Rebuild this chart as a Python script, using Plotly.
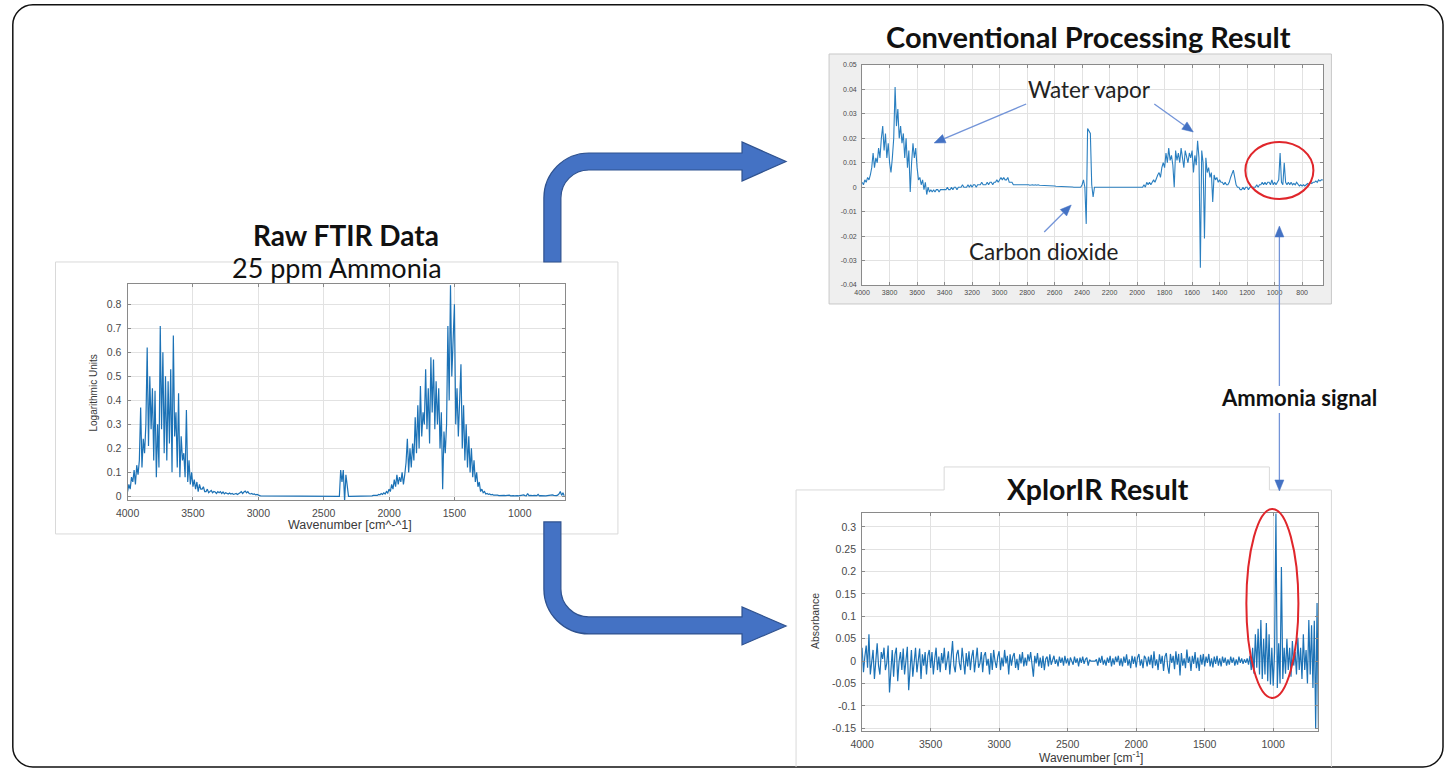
import math
import plotly.graph_objects as go

W, H = 1445, 771
# measured placement of the page inside the returned picture
SX, OX, SY, OY = 0.991, 11.5, 0.991, 4.0


def X(px):
    return ((px - OX) / SX) / W


def Y(py):
    return 1 - ((py - OY) / SY) / H


# ---------------- data ----------------
# Raw FTIR spectrum, 4000 -> 660 cm^-1, one value every 10 cm^-1
raw_start, raw_step = 4000, -10
raw_abs = [
    0.02, 0.05, 0.03, 0.08, 0.06, 0.11, 0.05, 0.13, 0.09, 0.15,      # 4000
    0.37, 0.12, 0.24, 0.18, 0.30, 0.62, 0.21, 0.50, 0.28, 0.45,      # 3900
    0.15, 0.44, 0.08, 0.30, 0.12, 0.71, 0.28, 0.60, 0.18, 0.50,      # 3800
    0.15, 0.48, 0.22, 0.53, 0.10, 0.67, 0.25, 0.35, 0.12, 0.43,      # 3700
    0.08, 0.25, 0.15, 0.18, 0.08, 0.36, 0.06, 0.15, 0.05, 0.10,      # 3600
    0.04, 0.07, 0.03, 0.06, 0.02, 0.05, 0.03, 0.03, 0.04, 0.02,      # 3500
    0.02, 0.03, 0.015, 0.02, 0.025, 0.015, 0.02, 0.018, 0.012, 0.02,  # 3400
    0.015, 0.02, 0.012, 0.018, 0.01, 0.015, 0.012, 0.01, 0.014, 0.01,  # 3300
    0.012, 0.008, 0.01, 0.012, 0.008, 0.01, 0.015, 0.02, 0.012, 0.018,  # 3200
    0.022, 0.015, 0.02, 0.012, 0.01, 0.012, 0.008, 0.01, 0.006, 0.008,  # 3100
    0.004, 0.003, 0.002, 0.002, 0.001, 0.001, 0.001, 0.0, 0.001, 0.0,  # 3000
    0.0, 0.001, 0.0, 0.0, 0.001, 0.0, 0.0, 0.0, 0.001, 0.0,          # 2900
    0.0, 0.0, 0.0, 0.001, 0.0, 0.0, 0.0, 0.0, 0.0, 0.0,              # 2800
    0.0, 0.0, 0.001, 0.0, 0.0, 0.0, 0.0, 0.0, 0.0, 0.0,              # 2700
    0.0, 0.0, 0.0, 0.0, 0.0, 0.0, 0.001, 0.0, 0.0, 0.0,              # 2600
    0.0, 0.0, 0.0, 0.0, 0.0, 0.0, 0.0, 0.0, 0.0, 0.0,                # 2500
    0.0, 0.0, 0.0, 0.11, 0.06, 0.11, -0.02, 0.09, 0.05, 0.0,         # 2400
    0.0, 0.0, 0.0, 0.0, 0.0, 0.0, 0.0, 0.0, 0.0, 0.0,                # 2300
    0.0, 0.001, 0.0, 0.002, 0.001, 0.002, 0.003, 0.002, 0.004, 0.003,  # 2200
    0.005, 0.004, 0.008, 0.006, 0.012, 0.008, 0.015, 0.01, 0.02, 0.014,  # 2100
    0.03, 0.02, 0.05, 0.03, 0.07, 0.04, 0.09, 0.05, 0.08, 0.06,      # 2000
    0.10, 0.05, 0.09, 0.14, 0.24, 0.10, 0.20, 0.12, 0.22, 0.15,      # 1900
    0.33, 0.18, 0.38, 0.20, 0.46, 0.25, 0.35, 0.30, 0.53, 0.28,      # 1800
    0.45, 0.22, 0.58, 0.35, 0.57, 0.28, 0.48, 0.30, 0.45, 0.20,      # 1700
    0.35, 0.03, 0.27, 0.18, 0.30, 0.71, 0.40, 0.88, 0.50, 0.62,      # 1600
    0.80, 0.30, 0.45, 0.25, 0.42, 0.55, 0.20, 0.38, 0.15, 0.30,      # 1500
    0.12, 0.25, 0.10, 0.20, 0.08, 0.15, 0.06, 0.10, 0.04, 0.06,      # 1400
    0.02, 0.03, 0.015, 0.02, 0.01, 0.012, 0.008, 0.01, 0.006, 0.008,  # 1300
    0.005, 0.006, 0.004, 0.005, 0.003, 0.004, 0.005, 0.003, 0.004, 0.003,  # 1200
    0.004, 0.003, 0.005, 0.002, 0.004, 0.003, 0.002, 0.004, 0.003, 0.002,  # 1100
    0.003, 0.004, 0.002, 0.006, 0.003, 0.002, 0.012, 0.003, 0.004, 0.002,  # 1000
    0.003, 0.004, 0.002, 0.003, 0.008, 0.002, 0.003, 0.002, 0.004, 0.003,  # 900
    0.002, 0.003, 0.004, 0.002, 0.003, 0.006, 0.004, 0.002, 0.003, 0.005,  # 800
    0.010, 0.020, 0.004, 0.015, 0.003,                               # 700
]

# Conventional processing result, 4000 -> 650 cm^-1, every 10 cm^-1
conv_start, conv_step = 4000, -10
conv_abs = [
    0.002, 0.001, 0.003, 0.002, 0.004, 0.003, 0.005, 0.008, 0.014, 0.008,  # 4000
    0.012, 0.01, 0.016, 0.012, 0.02, 0.025, 0.015, 0.022, 0.012, 0.018,    # 3900
    0.01, 0.006, 0.012, 0.02, 0.041, 0.025, 0.032, 0.02, 0.025, 0.018,     # 3800
    0.022, 0.012, 0.02, 0.008, 0.015, -0.002, 0.01, 0.018, 0.012, 0.016,   # 3700
    0.008, 0.003, 0.004, 0.001, 0.003, -0.001, 0.002, -0.003, 0.0, -0.002,  # 3600
    -0.001, -0.002, -0.001, -0.002, -0.001, -0.001, -0.002, -0.001, -0.001, -0.001,  # 3500
    -0.001, -0.001, 0.0, -0.001, -0.001, 0.0, -0.001, 0.0, 0.0, -0.001,    # 3400
    0.0, 0.0, 0.0, 0.001, 0.0, 0.0, 0.0, 0.001, 0.0, 0.001,                # 3300
    0.0, 0.001, 0.001, 0.0, 0.001, 0.001, 0.001, 0.002, 0.001, 0.001,      # 3200
    0.001, 0.002, 0.001, 0.002, 0.002, 0.001, 0.002, 0.002, 0.003, 0.002,  # 3100
    0.003, 0.004, 0.003, 0.004, 0.003, 0.003, 0.004, 0.002, 0.002, 0.002,  # 3000
    0.001, 0.001, 0.001, 0.0012, 0.001, 0.001, 0.0012, 0.001, 0.001, 0.001,  # 2900
    0.001, 0.001, 0.0008, 0.001, 0.001, 0.0008, 0.001, 0.0008, 0.001, 0.0008,  # 2800
    0.0008, 0.0008, 0.0006, 0.0008, 0.0006, 0.0006, 0.0006, 0.0005, 0.0005, 0.0005,  # 2700
    0.0005, 0.0004, 0.0004, 0.0004, 0.0003, 0.0003, 0.0003, 0.0002, 0.0002, 0.0002,  # 2600
    0.0002, 0.0001, 0.0001, 0.0001, 0.0, 0.0, 0.0, 0.0, 0.0, 0.0,          # 2500
    0.001, 0.003, 0.0, -0.015, 0.024, 0.023, 0.022, 0.001, -0.004, 0.0,    # 2400
    0.0, 0.0, 0.0, 0.0, 0.0, 0.0, 0.0, 0.0, 0.0, 0.0,                      # 2300
    0.0, 0.0, 0.0, 0.0, 0.0, 0.0, 0.0, 0.0, 0.0, 0.0,                      # 2200
    0.0, 0.0, 0.0, 0.0, 0.0, 0.0, 0.0, 0.0, 0.0, 0.0,                      # 2100
    0.0, 0.0, 0.0, 0.0, 0.0, 0.001, 0.0, 0.002, 0.001, 0.002,              # 2000
    0.001, 0.002, 0.003, 0.002, 0.004, 0.005, 0.006, 0.004, 0.008, 0.01,   # 1900
    0.008, 0.014, 0.01, 0.016, 0.011, 0.013, 0.009, 0.0, 0.015, 0.011,     # 1800
    0.014, 0.01, 0.016, 0.012, 0.008, 0.015, 0.013, 0.01, 0.014, 0.012,    # 1700
    0.015, 0.006, 0.013, 0.009, 0.019, 0.012, -0.033, 0.015, 0.01, -0.021,  # 1600
    0.012, 0.006, 0.008, 0.004, 0.006, -0.006, 0.005, 0.003, 0.004, 0.002,  # 1500
    0.003, 0.002, 0.002, 0.001, 0.002, 0.001, 0.001, 0.002, 0.004, 0.006,  # 1400
    0.007, 0.004, 0.001, 0.0, 0.0, -0.001, -0.001, 0.0, -0.001, 0.0,       # 1300
    0.0, -0.001, 0.0, 0.0, 0.0, 0.0, 0.0, 0.001, 0.0, 0.001,               # 1200
    0.001, 0.002, 0.001, 0.002, 0.001, 0.002, 0.002, 0.001, 0.003, 0.001,  # 1100
    0.002, 0.001, 0.002, 0.003, 0.014, 0.002, 0.001, 0.01, 0.002, 0.001,   # 1000
    0.002, 0.001, 0.002, 0.001, 0.0015, 0.001, 0.002, 0.001, 0.0005, 0.001,  # 900
    0.0005, 0.001, 0.0005, 0.001, 0.0015, 0.001, 0.002, 0.0015, 0.002, 0.002,  # 800
    0.0025, 0.002, 0.003, 0.0025, 0.003, 0.003,                            # 700
]

# XplorIR result, 4000 -> 670 cm^-1, every 10 cm^-1
xpl_start, xpl_step = 4000, -10
xpl_abs = [
    0.03, -0.025, 0.01, 0.035, -0.015, 0.06, -0.03, 0.005, 0.025, -0.04,     # 4000
    0.015, 0.04, -0.01, -0.03, 0.02, 0.005, 0.03, -0.02, -0.005, 0.035,      # 3900
    -0.07, -0.01, 0.025, -0.035, 0.015, 0.03, -0.045, 0.0, 0.02, -0.02,      # 3800
    0.028, -0.03, 0.01, 0.032, -0.065, -0.01, 0.025, -0.035, 0.005, 0.03,    # 3700
    -0.025, 0.01, 0.028, -0.04, 0.015, -0.01, 0.02, -0.03, 0.012, 0.025,     # 3600
    -0.015, 0.02, -0.03, 0.005, 0.03, -0.02, 0.01, -0.025, 0.018, -0.005,    # 3500
    0.03, -0.02, 0.008, 0.022, -0.03, 0.012, 0.045, -0.01, -0.025, 0.015,    # 3400
    0.025, -0.005, -0.02, 0.03, 0.0, -0.03, 0.018, -0.012, 0.022, -0.02,     # 3300
    0.01, 0.025, -0.025, 0.005, 0.03, -0.015, -0.005, 0.02, -0.025, 0.012,   # 3200
    0.02, -0.01, 0.005, -0.03, 0.018, -0.02, 0.025, 0.0, -0.015, 0.01,       # 3100
    0.022, -0.02, 0.008, -0.012, 0.025, -0.005, 0.012, -0.03, 0.015, -0.01,  # 3000
    0.01, 0.018, -0.015, 0.005, -0.02, 0.015, -0.005, 0.02, -0.012, 0.008,   # 2900
    -0.01, 0.015, 0.0, 0.02, -0.015, -0.035, 0.012, -0.005, 0.018, -0.012,   # 2800
    0.008, -0.015, 0.012, -0.02, 0.005, 0.01, -0.012, 0.015, -0.008, 0.004,  # 2700
    0.012, -0.006, 0.004, -0.012, 0.01, -0.004, 0.008, -0.01, 0.012, -0.005,  # 2600
    0.006, -0.01, 0.008, 0.0, -0.008, 0.01, -0.004, 0.006, -0.012, 0.008,    # 2500
    -0.004, 0.01, -0.006, 0.004, 0.008, -0.01, 0.003, 0.0, 0.0, 0.0,         # 2400
    0.0, 0.004, -0.01, 0.008, -0.004, 0.012, -0.008, 0.003, -0.01, 0.008,    # 2300
    -0.004, 0.012, -0.012, 0.006, -0.008, 0.01, -0.002, 0.012, -0.01, 0.006,  # 2200
    -0.012, 0.01, -0.004, 0.015, -0.01, 0.004, -0.016, 0.012, -0.006, 0.01,  # 2100
    -0.014, 0.008, 0.016, -0.01, 0.004, -0.016, 0.012, 0.006, -0.012, 0.01,  # 2000
    -0.008, 0.014, -0.016, 0.022, -0.01, 0.004, -0.02, 0.015, -0.006, 0.012,  # 1900
    -0.022, 0.01, 0.018, -0.012, -0.028, 0.016, -0.004, 0.012, -0.018, 0.022,  # 1800
    -0.008, 0.016, -0.032, 0.018, -0.01, 0.006, -0.016, 0.026, -0.004, 0.01,  # 1700
    -0.022, 0.012, -0.006, 0.02, -0.016, 0.008, -0.022, 0.014, -0.008, 0.016,  # 1600
    -0.012, 0.01, -0.004, 0.016, -0.012, 0.006, -0.014, 0.01, -0.006, 0.012,  # 1500
    -0.01, 0.006, -0.012, 0.01, -0.004, 0.008, -0.01, 0.004, -0.008, 0.01,   # 1400
    -0.004, 0.008, -0.01, 0.004, -0.008, 0.01, -0.004, 0.006, -0.006, 0.004,  # 1300
    -0.004, 0.006, -0.008, 0.012, -0.02, 0.03, -0.028, 0.06, -0.015, 0.072,  # 1200
    -0.03, 0.092, -0.04, 0.05, -0.03, 0.085, -0.045, 0.06, -0.052, 0.03,     # 1100
    -0.055, 0.02, 0.33, -0.06, 0.04, -0.05, 0.21, -0.04, 0.03, -0.028,       # 1000
    0.05, -0.02, 0.03, -0.035, 0.045, -0.01, 0.02, -0.03, 0.052, -0.02,      # 900
    0.03, -0.04, 0.06, -0.02, 0.025, -0.05, 0.092, -0.03, 0.08, -0.06,       # 800
    0.09, -0.15, 0.13, -0.15,                                                # 700
]

# tick labels
raw_xticks = [4000, 3500, 3000, 2500, 2000, 1500, 1000]
raw_yticks = [0, 0.1, 0.2, 0.3, 0.4, 0.5, 0.6, 0.7, 0.8]
raw_ylabels = ["0", "0.1", "0.2", "0.3", "0.4", "0.5", "0.6", "0.7", "0.8"]
conv_xticks = [4000, 3800, 3600, 3400, 3200, 3000, 2800, 2600, 2400, 2200,
               2000, 1800, 1600, 1400, 1200, 1000, 800]
conv_yticks = [-0.04, -0.03, -0.02, -0.01, 0, 0.01, 0.02, 0.03, 0.04, 0.05]
conv_ylabels = ["-0.04", "-0.03", "-0.02", "-0.01", "0", "0.01", "0.02",
                "0.03", "0.04", "0.05"]
xpl_xticks = [4000, 3500, 3000, 2500, 2000, 1500, 1000]
xpl_yticks = [-0.15, -0.1, -0.05, 0, 0.05, 0.1, 0.15, 0.2, 0.25, 0.3]
xpl_ylabels = ["-0.15", "-0.1", "-0.05", "0", "0.05", "0.1", "0.15", "0.2",
               "0.25", "0.3"]

raw_wn = [raw_start + raw_step * i for i in range(len(raw_abs))]
conv_wn = [conv_start + conv_step * i for i in range(len(conv_abs))]
xpl_wn = [xpl_start + xpl_step * i for i in range(len(xpl_abs))]

LINE = "#1c72b6"

fig = go.Figure()
fig.add_trace(go.Scatter(x=raw_wn, y=raw_abs, mode="lines", xaxis="x", yaxis="y",
                         line=dict(color=LINE, width=1.2), showlegend=False, hoverinfo="skip"))
fig.add_trace(go.Scatter(x=conv_wn, y=conv_abs, mode="lines", xaxis="x2", yaxis="y2",
                         line=dict(color="#2a7fc0", width=1.1), showlegend=False, hoverinfo="skip"))
fig.add_trace(go.Scatter(x=xpl_wn, y=xpl_abs, mode="lines", xaxis="x3", yaxis="y3",
                         line=dict(color=LINE, width=1.2), showlegend=False, hoverinfo="skip"))


def ax_style(size):
    return dict(showgrid=True, gridcolor="#e2e2e2", gridwidth=1, showline=True,
                linecolor="#8a8a8a", linewidth=1, mirror="ticks", ticks="inside",
                ticklen=3, tickcolor="#8a8a8a", zeroline=False,
                tickfont=dict(family="Liberation Sans", size=size, color="#4a4a4a"))


# pixel frames of the three plots (as seen in the picture)
raw_box = (127, 564, 284, 500)
conv_box = (861, 1322, 65, 285)
xpl_box = (861, 1317, 513, 731)


def dom(box):
    x0, x1, y0, y1 = box
    return [X(x0), X(x1)], [Y(y1), Y(y0)]


rd = dom(raw_box)
cd = dom(conv_box)
xd = dom(xpl_box)

fig.update_layout(
    width=W, height=H, autosize=False,
    margin=dict(l=0, r=0, t=0, b=0, pad=0),
    paper_bgcolor="white", plot_bgcolor="rgba(0,0,0,0)",
    xaxis=dict(domain=rd[0], anchor="y", range=[4000, 655], tickvals=raw_xticks,
               ticktext=[str(v) for v in raw_xticks], ticklabelstandoff=3, **ax_style(10.5)),
    yaxis=dict(domain=rd[1], anchor="x", range=[-0.015, 0.885], tickvals=raw_yticks,
               ticktext=raw_ylabels, ticklabelstandoff=3, **ax_style(10.5)),
    xaxis2=dict(domain=cd[0], anchor="y2", range=[4000, 645], tickvals=conv_xticks,
                ticktext=[str(v) for v in conv_xticks], ticklabelstandoff=1, **ax_style(7)),
    yaxis2=dict(domain=cd[1], anchor="x2", range=[-0.04, 0.05], tickvals=conv_yticks,
                ticktext=conv_ylabels, ticklabelstandoff=3, **ax_style(7)),
    xaxis3=dict(domain=xd[0], anchor="y3", range=[4000, 670], tickvals=xpl_xticks,
                ticktext=[str(v) for v in xpl_xticks], ticklabelstandoff=3, **ax_style(10.5)),
    yaxis3=dict(domain=xd[1], anchor="x3", range=[-0.156, 0.331], tickvals=xpl_yticks,
                ticktext=xpl_ylabels, ticklabelstandoff=3, **ax_style(10.5)),
)


def P(x, y):
    return f"{X(x):.5f},{Y(y):.5f}"


shapes = []

# outer rounded frame, kept inside the drawable page
r = 20
bx0, by0 = OX + 0.8, OY + 0.8
bx1, by1 = 1441.5, 767.0
k = 0.552 * r
outer = (f"M {P(bx0 + r, by0)} L {P(bx1 - r, by0)} C {P(bx1 - r + k, by0)} {P(bx1, by0 + r - k)} {P(bx1, by0 + r)} "
         f"L {P(bx1, by1 - r)} C {P(bx1, by1 - r + k)} {P(bx1 - r + k, by1)} {P(bx1 - r, by1)} "
         f"L {P(bx0 + r, by1)} C {P(bx0 + r - k, by1)} {P(bx0, by1 - r + k)} {P(bx0, by1 - r)} "
         f"L {P(bx0, by0 + r)} C {P(bx0, by0 + r - k)} {P(bx0 + r - k, by0)} {P(bx0 + r, by0)} Z")
shapes.append(dict(type="path", path=outer, xref="paper", yref="paper",
                   line=dict(color="#111111", width=1.5), layer="below"))

# conventional panel (grey image background with white plot area)
shapes.append(dict(type="rect", xref="paper", yref="paper", x0=X(828), x1=X(1330),
                   y0=Y(304), y1=Y(54), fillcolor="#efefef",
                   line=dict(color="#c8c8c8", width=1), layer="below"))
shapes.append(dict(type="rect", xref="paper", yref="paper", x0=X(conv_box[0]), x1=X(conv_box[1]),
                   y0=Y(conv_box[3]), y1=Y(conv_box[2]), fillcolor="white",
                   line=dict(width=0), layer="below"))

# raw panel outline
shapes.append(dict(type="rect", xref="paper", yref="paper", x0=X(55), x1=X(617),
                   y0=Y(534), y1=Y(262), fillcolor="rgba(0,0,0,0)",
                   line=dict(color="#d9d9d9", width=1), layer="below"))

# XplorIR panel outline and its title box
xpanel = (f"M {P(795, 767)} L {P(795, 490)} L {P(943, 490)} "
          f"M {P(1268, 490)} L {P(1330, 490)} L {P(1330, 767)} "
          f"M {P(943, 490)} L {P(943, 467)} L {P(1268, 467)} L {P(1268, 490)}")
shapes.append(dict(type="path", path=xpanel, xref="paper", yref="paper",
                   line=dict(color="#d9d9d9", width=1), layer="below"))

# big blue block arrows
up_arrow = (f"M {P(543, 262)} L {P(543, 198)} C {P(543, 173.2)} {P(563.2, 153)} {P(588, 153)} "
            f"L {P(741, 153)} L {P(741, 142)} L {P(785, 161.5)} L {P(741, 181)} L {P(741, 170)} "
            f"L {P(588, 170)} C {P(572.5, 170)} {P(560, 182.5)} {P(560, 198)} L {P(560, 262)} Z")
down_arrow = (f"M {P(543, 522)} L {P(560, 522)} L {P(560, 589)} C {P(560, 604.5)} {P(572.5, 617)} {P(588, 617)} "
              f"L {P(741, 617)} L {P(741, 607)} L {P(785, 626)} L {P(741, 645)} L {P(741, 634)} "
              f"L {P(588, 634)} C {P(563.2, 634)} {P(543, 613.8)} {P(543, 589)} Z")
for pth in (up_arrow, down_arrow):
    shapes.append(dict(type="path", path=pth, xref="paper", yref="paper",
                       fillcolor="#4472C4", line=dict(color="#2F528F", width=1.2), layer="above"))


# thin pointer arrows (line + filled head)
def pointer(tail, tip, L=11.0, w=4.5):
    dx, dy = tip[0] - tail[0], tip[1] - tail[1]
    n = math.hypot(dx, dy)
    ux, uy = dx / n, dy / n
    hx, hy = tip[0] - ux * L, tip[1] - uy * L
    shapes.append(dict(type="line", xref="paper", yref="paper", x0=X(tail[0]), y0=Y(tail[1]),
                       x1=X(hx), y1=Y(hy), line=dict(color="#7394d8", width=1.3), layer="above"))
    head = (f"M {P(tip[0], tip[1])} L {P(hx - uy * w, hy + ux * w)} "
            f"L {P(hx + uy * w, hy - ux * w)} Z")
    shapes.append(dict(type="path", path=head, xref="paper", yref="paper",
                       fillcolor="#4472C4", line=dict(color="#4472C4", width=0.5), layer="above"))


pointer((1025, 104), (933, 143))
pointer((1153, 104), (1192, 132))
pointer((1043, 232), (1070, 205))
pointer((1278, 386), (1278, 226))
pointer((1278, 413), (1278, 491))

# red ellipses
shapes.append(dict(type="circle", xref="paper", yref="paper", x0=X(1244), x1=X(1312),
                   y0=Y(199), y1=Y(142), line=dict(color="#e0262b", width=2), layer="above"))
shapes.append(dict(type="circle", xref="paper", yref="paper", x0=X(1245), x1=X(1297),
                   y0=Y(698), y1=Y(509), line=dict(color="#e0262b", width=2), layer="above"))

fig.update_layout(shapes=shapes)

ann = []


def text(x, y, s, size, bold=False, family="Lato", color="#111111", angle=0):
    ann.append(dict(x=X(x), y=Y(y), xref="paper", yref="paper", text=(f"<b>{s}</b>" if bold else s),
                    showarrow=False, xanchor="center", yanchor="middle", textangle=angle,
                    font=dict(family=family, size=size, color=color)))


text(345, 235, "Raw FTIR Data", 28, bold=True)
text(336, 268, "25 ppm Ammonia", 27)
text(1087, 37, "Conventional Processing Result", 29, bold=True)
text(1097, 489, "XplorIR Result", 28.5, bold=True)
text(1088, 90, "Water vapor", 22.5, color="#222222")
text(1043, 252, "Carbon dioxide", 22.5, color="#222222")
text(1298, 398, "Ammonia signal", 22, bold=True)

text(93, 393, "Logarithmic Units", 10, family="Liberation Sans", color="#3a3a3a", angle=-90)
text(349, 525, "Wavenumber [cm^-^1]", 12.5, family="Liberation Sans", color="#3a3a3a")
text(814, 621, "Absorbance", 10.5, family="Liberation Sans", color="#3a3a3a", angle=-90)
text(1090, 757, "Wavenumber [cm<sup>-1</sup>]", 12, family="Liberation Sans", color="#3a3a3a")

fig.update_layout(annotations=ann)

fig.write_html("out.html", config={"displayModeBar": False},
               post_script="document.body.style.margin='0';")
